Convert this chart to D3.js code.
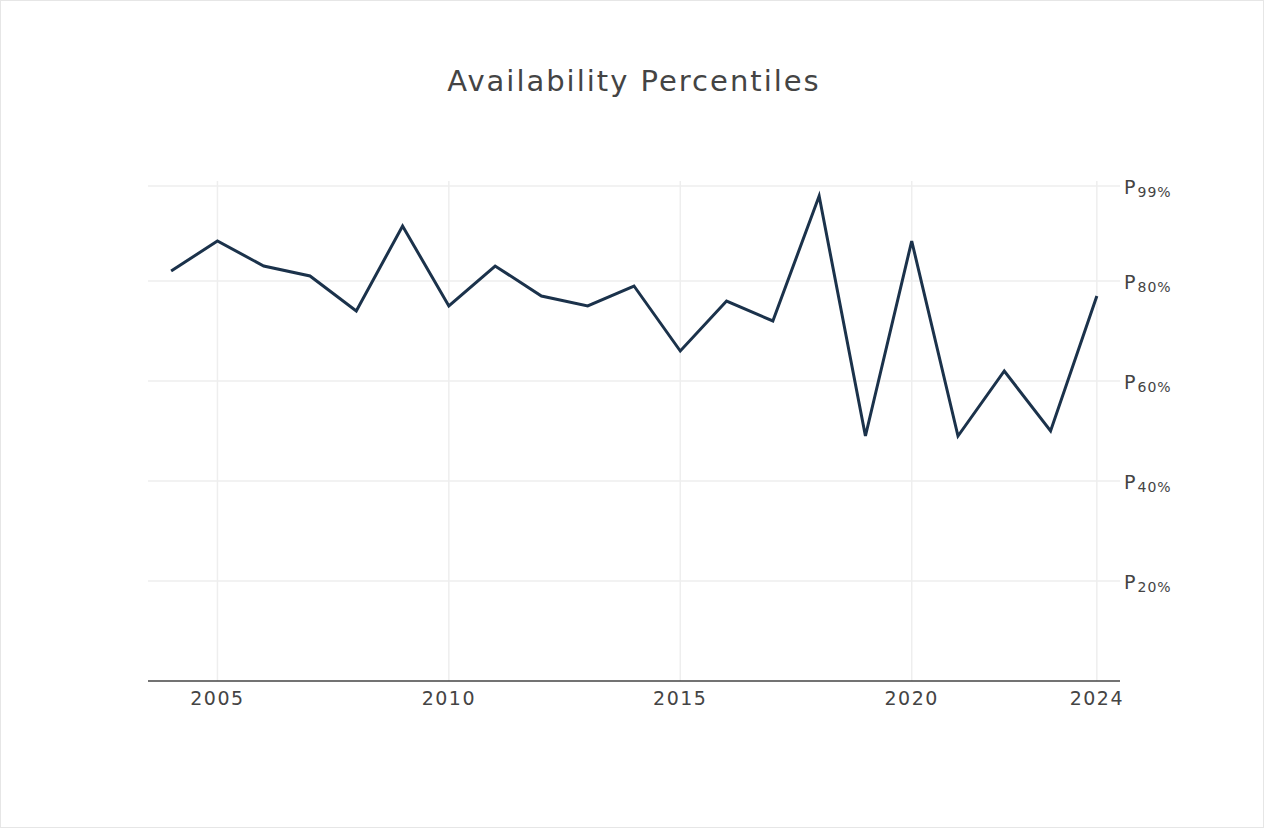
<!DOCTYPE html>
<html><head><meta charset="utf-8">
<script src="https://cdn.jsdelivr.net/npm/d3@7"></script>
<style>body{margin:0;background:#fff;font-family:Verdana,"DejaVu Sans",sans-serif}</style>
</head><body><svg id="c" width="1264" height="828"></svg>
<script>
var years = [2004,2005,2006,2007,2008,2009,2010,2011,2012,2013,2014,2015,2016,2017,2018,2019,2020,2021,2022,2023,2024];
var pct = [82,88,83,81,74,91,75,83,77,75,79,66,76,72,97,49,88,49,62,50,77];
var xTicks = [2005,2010,2015,2020,2024];
var yTicks = [20,40,60,80,99];

var svg = d3.select("#c");
svg.append("rect").attr("x",0.5).attr("y",0.5).attr("width",1263).attr("height",827)
   .attr("fill","none").attr("stroke","#e6e6e6");
var x = d3.scaleLinear().domain([2003.5,2024.5]).range([148,1120]);
var y = d3.scaleLinear().domain([0,100]).range([681,181]);

svg.append("text").attr("x",634).attr("y",91).attr("text-anchor","middle")
   .attr("font-size",29).attr("letter-spacing",2).attr("fill","#444").text("Availability Percentiles");

var g = svg.append("g");
g.selectAll("line.h").data(yTicks).enter().append("line")
  .attr("x1",148).attr("x2",1120).attr("y1",function(d){return y(d);}).attr("y2",function(d){return y(d);})
  .attr("stroke","#eeeeee").attr("stroke-width",1.5);
g.selectAll("line.v").data(xTicks).enter().append("line")
  .attr("y1",181).attr("y2",681).attr("x1",function(d){return x(d);}).attr("x2",function(d){return x(d);})
  .attr("stroke","#eeeeee").attr("stroke-width",1.5);

svg.append("line").attr("x1",148).attr("x2",1120).attr("y1",681).attr("y2",681)
   .attr("stroke","#444").attr("stroke-width",1.5);

svg.selectAll("text.xt").data(xTicks).enter().append("text")
  .attr("x",function(d){return x(d);}).attr("y",705).attr("text-anchor","middle")
  .attr("font-size",19).attr("letter-spacing",1.5).attr("fill","#444").text(function(d){return d;});

var yl = svg.selectAll("text.yt").data(yTicks).enter().append("text")
  .attr("x",1124).attr("y",function(d){return y(d)+8;}).attr("fill","#444").attr("font-size",19);
yl.append("tspan").text("P");
yl.append("tspan").attr("font-size",14).attr("dx",2).attr("dy",3).attr("letter-spacing",1)
  .text(function(d){return d+"%";});

var line = d3.line().x(function(d,i){return x(years[i]);}).y(function(d){return y(d);});
svg.append("path").datum(pct).attr("d",line).attr("fill","none")
   .attr("stroke","#1b324b").attr("stroke-width",3).attr("stroke-linejoin","miter");
</script></body></html>
